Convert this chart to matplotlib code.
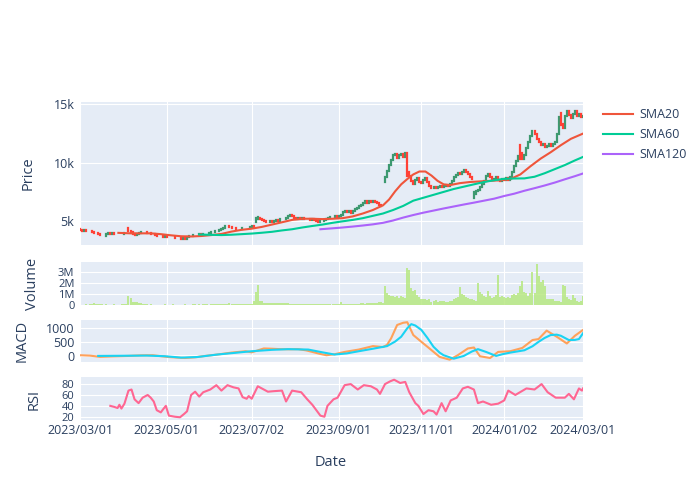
import matplotlib
matplotlib.use('Agg')
import matplotlib.pyplot as plt
import numpy as np
from matplotlib.lines import Line2D

plt.rcParams['font.family'] = ['Open Sans', 'DejaVu Sans']

# daily candles, trading-day index 0..249
opens = [
    4320, 4230, 4170, 4200, 4150, 4190, 4120, 4050, 3980, 3950,
    3870, 3700, 3760, 3720, 3850, 3950, 3900, 3960, 3900, 3880,
    3920, 3900, 3890, 3950, 4450, 4150, 4050, 3900, 3820, 3900,
    4000, 4060, 4040, 4080, 4020, 3960, 3920, 3880, 3820, 3760,
    3720, 3680, 3650, 3700, 3640, 3600, 3660, 3600, 3560, 3530,
    3560, 3500, 3540, 3500, 3620, 3700, 3760, 3800, 3780, 3830,
    3860, 3840, 3880, 3860, 3920, 3980, 4040, 4100, 4160, 4120,
    4200, 4320, 4450, 4560, 4620, 4500, 4420, 4380, 4330, 4300,
    4360, 4420, 4380, 4450, 4430, 4500, 4540, 4900, 5200, 5300,
    5150, 5080, 5000, 4950, 4900, 4980, 4940, 5020, 5080, 5050,
    5150, 5200, 5180, 5280, 5420, 5560, 5420, 5300, 5220, 5260,
    5200, 5230, 5180, 5200, 5150, 5120, 5160, 5080, 5020, 4960,
    5000, 4980, 5100, 5200, 5260, 5380, 5330, 5400, 5350, 5420,
    5560, 5800, 5880, 5780, 5850, 5700, 5860, 6000, 6120, 6260,
    6420, 6520, 6680, 6580, 6720, 6640, 6760, 6620, 6560, 6420,
    7400, 8350, 8800, 9300, 9800, 10250, 10650, 10750, 10400, 10650,
    10750, 10500, 10800, 9200, 8850, 8450, 8200, 8550, 8700, 8350,
    8250, 8550, 8700, 8350, 8050, 7850, 7950, 7800, 7920, 8050,
    7900, 8000, 8080, 7980, 8150, 8450, 8750, 8950, 9150, 9000,
    9250, 9400, 9200, 9050, 8800, 7000, 7300, 7550, 7700, 7900,
    8150, 8450, 8850, 9050, 8750, 8550, 8650, 8750, 8500, 8420,
    8620, 8500, 8700, 8560, 8800, 9200, 9700, 10150, 11500, 10800,
    10350, 10650, 11300, 11800, 12300, 12750, 12450, 12050, 11750, 11500,
    11650, 11350, 11450, 11650, 11420, 11600, 11750, 12500, 14300, 13300,
    12950, 14000, 14450, 14100, 13850, 14200, 14450, 14050, 14150, 13900,
]
closes = [
    4230, 4180, 4200, 4150, 4180, 4120, 4060, 3980, 3950, 3880,
    3780, 3760, 3720, 3850, 3950, 3900, 3960, 3900, 3880, 3920,
    3900, 3890, 3950, 4000, 4150, 4050, 3900, 3820, 3900, 4000,
    4060, 4040, 4080, 4020, 3960, 3920, 3880, 3820, 3760, 3720,
    3680, 3650, 3700, 3640, 3600, 3660, 3600, 3560, 3530, 3560,
    3500, 3540, 3500, 3620, 3700, 3760, 3800, 3780, 3830, 3860,
    3840, 3880, 3860, 3920, 3980, 4040, 4100, 4160, 4120, 4200,
    4320, 4450, 4560, 4620, 4500, 4420, 4380, 4330, 4300, 4360,
    4420, 4380, 4450, 4430, 4500, 4540, 4500, 5250, 5330, 5150,
    5080, 5000, 4950, 4900, 4980, 4940, 5020, 5080, 5050, 5150,
    5200, 5180, 5280, 5420, 5560, 5420, 5300, 5220, 5260, 5200,
    5230, 5180, 5200, 5150, 5120, 5160, 5080, 5020, 4960, 5000,
    4980, 5100, 5200, 5260, 5380, 5330, 5400, 5350, 5420, 5560,
    5800, 5880, 5780, 5850, 5700, 5860, 6000, 6120, 6260, 6420,
    6520, 6680, 6580, 6720, 6640, 6760, 6620, 6560, 6420, 6300,
    7430, 8800, 9300, 9800, 10250, 10650, 10750, 10400, 10650, 10750,
    10500, 10800, 8900, 8850, 8450, 8200, 8550, 8700, 8350, 8250,
    8550, 8700, 8350, 8050, 7850, 7950, 7800, 7920, 8050, 7900,
    8000, 8080, 7980, 8150, 8450, 8750, 8950, 9150, 9000, 9250,
    9400, 9200, 9050, 8800, 8650, 7480, 7550, 7700, 7900, 8150,
    8450, 8850, 9050, 8750, 8550, 8650, 8750, 8500, 8420, 8620,
    8500, 8700, 8560, 8800, 9200, 9700, 10150, 10600, 10300, 10350,
    10650, 11300, 11800, 12300, 12750, 12450, 12050, 11750, 11500, 11650,
    11350, 11450, 11650, 11420, 11600, 11750, 12500, 13900, 13200, 12950,
    14000, 14450, 14100, 13850, 14200, 14450, 14050, 14150, 13900, 14050,
]
# volume in millions of shares
volumes = [
    0.03, 0.04, 0.03, 0.05, 0.04, 0.10, 0.13, 0.14, 0.12, 0.10,
    0.06, 0.05, 0.04, 0.05, 0.04, 0.03, 0.04, 0.05, 0.04, 0.03,
    0.04, 0.05, 0.06, 0.10, 0.85, 0.65, 0.30, 0.25, 0.28, 0.18,
    0.15, 0.08, 0.06, 0.05, 0.04, 0.05, 0.04, 0.03, 0.04, 0.03,
    0.04, 0.03, 0.05, 0.04, 0.03, 0.04, 0.05, 0.03, 0.04, 0.03,
    0.04, 0.03, 0.05, 0.04, 0.04, 0.03, 0.05, 0.06, 0.04, 0.05,
    0.04, 0.05, 0.06, 0.05, 0.04, 0.06, 0.05, 0.07, 0.06, 0.05,
    0.06, 0.07, 0.08, 0.06, 0.15, 0.10, 0.07, 0.06, 0.05, 0.06,
    0.05, 0.06, 0.07, 0.06, 0.08, 0.10, 0.40, 1.20, 1.80, 0.40,
    0.35, 0.18, 0.15, 0.20, 0.16, 0.18, 0.15, 0.20, 0.17, 0.14,
    0.18, 0.22, 0.20, 0.15, 0.12, 0.10, 0.08, 0.09, 0.07, 0.08,
    0.06, 0.08, 0.07, 0.09, 0.06, 0.07, 0.08, 0.06, 0.07, 0.09,
    0.08, 0.07, 0.10, 0.08, 0.09, 0.07, 0.10, 0.12, 0.09, 0.25,
    0.12, 0.10, 0.08, 0.11, 0.09, 0.12, 0.10, 0.13, 0.11, 0.20,
    0.14, 0.12, 0.18, 0.15, 0.20, 0.16, 0.14, 0.22, 0.30, 0.25,
    0.15, 1.70, 1.10, 0.90, 0.85, 0.80, 0.70, 0.80, 0.60, 0.80,
    0.70, 0.65, 3.40, 3.20, 1.50, 1.30, 1.40, 0.90, 0.70, 0.55,
    0.50, 0.50, 0.45, 0.50, 0.30, 0.35, 0.45, 0.30, 0.35, 0.40,
    0.35, 0.30, 0.30, 0.40, 0.40, 0.55, 0.60, 0.70, 1.60, 1.00,
    0.90, 0.70, 0.60, 0.55, 0.50, 0.45, 0.40, 2.00, 1.20, 1.00,
    0.80, 0.70, 1.25, 0.80, 0.60, 0.70, 0.90, 2.70, 0.70, 0.80,
    0.75, 0.65, 0.70, 0.60, 0.90, 1.00, 0.90, 1.10, 1.70, 2.20,
    1.20, 1.10, 0.80, 1.10, 3.00, 1.10, 3.70, 2.60, 2.10, 2.30,
    1.70, 0.50, 0.50, 0.50, 0.55, 0.40, 0.35, 0.35, 0.30, 1.80,
    1.70, 0.70, 0.50, 0.45, 0.90, 0.60, 0.40, 0.30, 0.35, 0.80,
]

# moving averages, read at sample days
sma20_day = [19, 25, 30, 35, 40, 45, 50, 55, 60, 65, 70, 75, 80, 85, 90, 95, 100,
             105, 110, 115, 120, 125, 130, 135, 140, 145, 150, 153, 156, 159, 162,
             165, 168, 171, 174, 177, 180, 183, 188, 193, 198, 203, 208, 213, 218,
             223, 228, 233, 238, 243, 249]
sma20 = [3990, 3950, 3950, 3950, 3880, 3780, 3700, 3680, 3720, 3800, 3900, 4100, 4250,
         4350, 4500, 4700, 4900, 5100, 5200, 5200, 5170, 5200, 5250, 5400, 5650, 5950,
         6350, 6850, 7550, 8150, 8600, 9000, 9250, 9250, 8900, 8450, 8150, 8080, 8250,
         8350, 8400, 8450, 8500, 8600, 9000, 9700, 10350, 10900, 11500, 12050, 12500]
sma60_day = [59, 65, 70, 75, 80, 85, 90, 95, 100, 105, 110, 115, 120, 125, 130, 135,
             140, 145, 150, 155, 160, 165, 170, 175, 180, 185, 190, 195, 200, 205, 210,
             215, 220, 225, 230, 235, 240, 245, 249]
sma60 = [3850, 3820, 3800, 3830, 3880, 3930, 4000, 4080, 4200, 4300, 4450, 4580, 4700,
         4850, 4980, 5100, 5250, 5450, 5650, 5950, 6300, 6750, 7000, 7250, 7500, 7750,
         7950, 8150, 8350, 8500, 8620, 8650, 8660, 8800, 9100, 9450, 9800, 10200, 10500]
sma120_day = [119, 125, 130, 135, 140, 145, 150, 155, 160, 165, 170, 175, 180, 185, 190,
              195, 200, 205, 210, 215, 220, 225, 230, 235, 240, 245, 249]
sma120 = [4300, 4380, 4450, 4530, 4620, 4720, 4850, 5050, 5300, 5520, 5720, 5900, 6080,
          6250, 6420, 6580, 6750, 6920, 7150, 7350, 7600, 7820, 8050, 8300, 8580, 8850,
          9080]

macd_day = [0, 5, 10, 17, 24, 30, 36, 43, 48, 52, 57, 62, 68, 75, 82, 85, 88, 91, 95,
            99, 104, 108, 112, 115, 119, 122, 126, 131, 138, 145, 150, 152, 154, 157,
            160, 162, 165, 169, 173, 178, 183, 187, 192, 195, 198, 203, 207, 213, 219,
            224, 227, 231, 236, 241, 245, 249]
macd = [25, 10, -35, -15, 0, 20, 25, -35, -60, -75, -50, 0, 50, 120, 170, 130, 200, 270,
        260, 245, 240, 245, 200, 145, 70, 25, 60, 145, 230, 355, 320, 400, 635, 1120,
        1200, 1220, 755, 510, 270, -35, -135, 25, 270, 305, -12, -75, 145, 170, 290,
        575, 610, 915, 695, 450, 730, 940]
signal_day = [9, 20, 33, 42, 50, 58, 68, 85, 95, 103, 113, 120, 126, 132, 138, 145, 152,
              156, 159, 162, 164, 166, 169, 172, 175, 178, 180, 185, 190, 194, 197, 201,
              206, 209, 213, 220, 224, 227, 230, 233, 236, 238, 242, 245, 247, 249]
signal = [0, 5, 12, -10, -60, -40, 50, 170, 220, 245, 230, 130, 50, 90, 170, 260, 355,
          520, 695, 1000, 1150, 1100, 940, 650, 330, 120, 25, -100, 0, 160, 245, 145, 0,
          60, 120, 205, 350, 510, 650, 755, 770, 730, 575, 580, 610, 820]

rsi_day = [15, 17, 18.6, 19.5, 20.5, 22, 24, 25.5, 27, 29, 31, 33.5, 35, 36.5, 38, 40,
           41, 42.5, 44, 47, 49.5, 51.5, 53, 55, 57, 59, 61, 64.5, 67.5, 70, 73, 76,
           78.5, 80.5, 82.5, 83.5, 85, 88, 91, 93, 96, 100, 102, 105, 109.5, 112.5,
           115, 119, 121, 122.5, 125.5, 127.5, 131, 134, 137.5, 140.5, 144, 147, 148.5,
           151, 153.5, 155.5, 158.5, 161, 163, 166, 167.5, 170, 172.5, 175, 176.5, 179,
           181, 183.5, 186.5, 189.5, 192, 195, 197, 199.5, 203.5, 207, 210, 212, 215.5,
           221, 225, 228.5, 231.5, 235.5, 240, 242, 244.5, 247, 248.5, 249]
rsi = [40, 38, 36, 42, 35, 44, 68, 70, 52, 45, 55, 60, 55, 48, 32, 28, 33, 40, 22, 20,
       19, 25, 30, 60, 66, 57, 65, 70, 78, 68, 78, 74, 72, 56, 53, 58, 53, 76, 70, 66,
       67, 68, 48, 68, 65, 52, 42, 22, 20, 40, 52, 55, 78, 80, 70, 78, 76, 70, 62, 80,
       85, 88, 82, 84, 65, 45, 40, 25, 32, 30, 24, 45, 30, 50, 55, 72, 75, 70, 45, 48,
       42, 44, 50, 68, 60, 72, 70, 80, 65, 55, 55, 62, 52, 72, 68, 72]

tick_days = [0, 43, 85, 128, 169, 210, 249]
tick_text = ['2023/03/01', '2023/05/01', '2023/07/02', '2023/09/01',
             '2023/11/01', '2024/01/02', '2024/03/01']

BG = '#E5ECF6'
FG = '#2a3f5f'
W, H = 700, 500


def panel(top, bottom):
    ax = fig.add_axes([80 / W, 1 - bottom / H, 503 / W, (bottom - top) / H])
    ax.set_facecolor(BG)
    for s in ax.spines.values():
        s.set_visible(False)
    ax.set_xlim(0, 249)
    ax.set_xticks(tick_days)
    ax.set_xticklabels(tick_text)
    ax.grid(True, color='white', lw=0.8)
    ax.set_axisbelow(True)
    ax.tick_params(length=0, labelsize=9, colors=FG, pad=4)
    ax.tick_params(axis='x', labelbottom=False)
    return ax


fig = plt.figure(figsize=(7, 5), dpi=100)

# price + moving averages
ax1 = panel(101.5, 245)
x = np.arange(len(closes))
o = np.array(opens)
c = np.array(closes)
up = c >= o
for mask, col in [(up, '#3D9970'), (~up, '#FF4136')]:
    lc = ax1.vlines(x[mask], o[mask], c[mask], color=col, lw=1.6, zorder=2)
    lc.set_capstyle('projecting')
ax1.plot(sma20_day, sma20, color='#EF553B', lw=1.5, zorder=3)
ax1.plot(sma60_day, sma60, color='#00CC96', lw=1.5, zorder=3)
ax1.plot(sma120_day, sma120, color='#AB63FA', lw=1.5, zorder=3)
ax1.set_ylim(2950, 15250)
ax1.set_yticks([5000, 10000, 15000])
ax1.set_yticklabels(['5k', '10k', '15k'])

# volume
ax2 = panel(262, 305)
ax2.vlines(x, 0, volumes, color='#B6E880', lw=1.2, zorder=2)
ax2.set_ylim(0, 3.9)
ax2.set_yticks([0, 1, 2, 3])
ax2.set_yticklabels(['0', '1M', '2M', '3M'])
ax2.tick_params(axis='y', labelsize=8)

# MACD
ax3 = panel(320, 362)
ax3.axhline(0, color='white', lw=1.5, zorder=1)
ax3.plot(macd_day, macd, color='#FFA15A', lw=1.5, zorder=3)
ax3.plot(signal_day, signal, color='#19D3F3', lw=1.5, zorder=3)
ax3.set_ylim(-220, 1300)
ax3.set_yticks([0, 500, 1000])

# RSI
ax4 = panel(377, 420)
ax4.plot(rsi_day, rsi, color='#FF6692', lw=1.5, zorder=3)
ax4.set_ylim(14, 93)
ax4.set_yticks([20, 40, 60, 80])
ax4.tick_params(axis='y', labelsize=8)
ax4.tick_params(axis='x', labelbottom=True, pad=3)

# axis titles
fig.text(331 / W, 1 - 462 / H, 'Date', ha='center', va='center', fontsize=10.5, color=FG)
for label, xp, yp in [('Price', 28, 173), ('Volume', 32, 284),
                      ('MACD', 22, 341), ('RSI', 34, 399)]:
    fig.text(xp / W, 1 - yp / H, label, rotation=90, ha='center', va='center',
             fontsize=10.5, color=FG)

handles = [Line2D([], [], color='#EF553B', lw=1.5),
           Line2D([], [], color='#00CC96', lw=1.5),
           Line2D([], [], color='#AB63FA', lw=1.5)]
leg = fig.legend(handles, ['SMA20', 'SMA60', 'SMA120'], loc='upper left',
                 bbox_to_anchor=(592 / W, 1 - 97 / H), frameon=False, fontsize=9,
                 handlelength=2.4, handletextpad=0.5, labelspacing=0.55)
for t in leg.get_texts():
    t.set_color(FG)

fig.savefig('out.png', dpi=100)
